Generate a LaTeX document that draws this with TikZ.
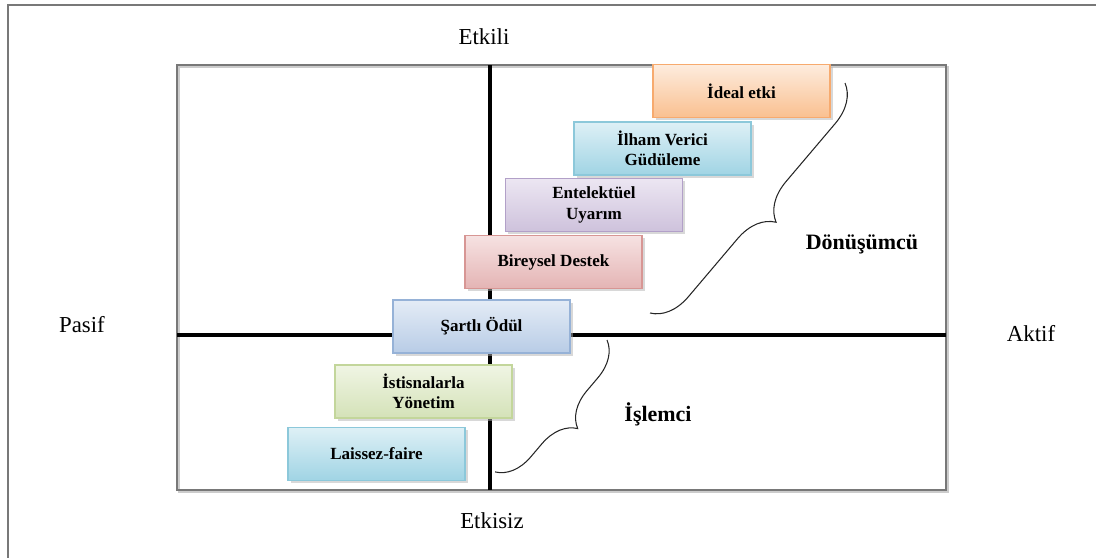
\documentclass[tikz,border=0pt]{standalone}
\usepackage{fontspec}
\setmainfont{Liberation Serif}
\usetikzlibrary{shadows,decorations.pathreplacing}

\definecolor{cerceve}{RGB}{120,120,120}
\definecolor{turuncuK}{RGB}{247,170,110}
\definecolor{turuncuA}{RGB}{253,236,222}
\definecolor{turuncuB}{RGB}{250,192,144}
\definecolor{maviK}{RGB}{140,200,218}
\definecolor{maviA}{RGB}{222,240,246}
\definecolor{maviB}{RGB}{160,212,228}
\definecolor{morK}{RGB}{178,160,200}
\definecolor{morA}{RGB}{236,230,242}
\definecolor{morB}{RGB}{206,194,220}
\definecolor{kirmiziK}{RGB}{215,150,148}
\definecolor{kirmiziA}{RGB}{246,226,226}
\definecolor{kirmiziB}{RGB}{228,180,180}
\definecolor{laciK}{RGB}{150,178,215}
\definecolor{laciA}{RGB}{228,236,246}
\definecolor{laciB}{RGB}{184,204,230}
\definecolor{yesilK}{RGB}{195,214,155}
\definecolor{yesilA}{RGB}{240,245,228}
\definecolor{yesilB}{RGB}{212,226,184}

\begin{document}
\begin{tikzpicture}[x=0.02cm,y=-0.02cm,
  kutu/.style n args={3}{draw=#1, line width=0.7pt, top color=#2, bottom color=#3,
    minimum width=3.54cm, minimum height=1.06cm, align=center, inner sep=1pt,
    font=\bfseries\fontsize{9.7}{11.5}\selectfont,
    drop shadow={shadow xshift=1.5pt, shadow yshift=-1.5pt, fill=black!30}},
  eksen/.style={line width=2.4pt, black},
  etiket/.style={font=\fontsize{13}{15}\selectfont},
  grup/.style={font=\bfseries\fontsize{12.5}{15}\selectfont},
  parantez/.style={decorate, decoration={brace, amplitude=#1}, line width=0.6pt, black!85}]

\useasboundingbox (0,0) rectangle (1096,558);

% dis cerceve
\draw [cerceve, line width=0.8pt] (8,558) -- (8,5) -- (1096,5);

% ic alan
\draw [black!20, line width=1.2pt] (179,67) rectangle (948,492);
\draw [cerceve, line width=1.1pt] (177,65) rectangle (946,490);

% eksenler
\coordinate (ust) at (490,65);
\coordinate (alt) at (490,490);
\coordinate (sol) at (177,335);
\coordinate (sag) at (946,335);
\draw [eksen] (ust) -- (alt);
\draw [eksen] (sol) -- (sag);

% eksen etiketleri
\node [etiket] (etkili) at (484,37) {Etkili};
\node [etiket] (etkisiz) at (492,521) {Etkisiz};
\node [etiket] (pasif) at (82,325) {Pasif};
\node [etiket] (aktif) at (1031,334) {Aktif};

% kutular
\node [kutu={turuncuK}{turuncuA}{turuncuB}] (ideal) at (741.5,91) {İdeal etki};
\node [kutu={maviK}{maviA}{maviB}] (ilham) at (662.5,148.5) {İlham Verici\\Güdüleme};
\node [kutu={morK}{morA}{morB}] (entelektuel) at (594,205) {Entelektüel\\Uyarım};
\node [kutu={kirmiziK}{kirmiziA}{kirmiziB}] (bireysel) at (553.5,262) {Bireysel Destek};
\node [kutu={laciK}{laciA}{laciB}] (sartli) at (481.5,326.5) {Şartlı Ödül};
\node [kutu={yesilK}{yesilA}{yesilB}] (istisna) at (423.5,391.5) {İstisnalarla\\Yönetim};
\node [kutu={maviK}{maviA}{maviB}] (laissez) at (376.5,454) {Laissez-faire};

% parantezler
\coordinate (d1) at (845,83);
\coordinate (d2) at (650,313);
\draw [parantez=0.75cm] (d1) -- (d2);
\coordinate (i1) at (607,340);
\coordinate (i2) at (495,472);
\draw [parantez=0.7cm] (i1) -- (i2);

% grup adlari
\node [grup] (donusumcu) at (862,244) {Dönüşümcü};
\node [grup] (islemci) at (658,414) {İşlemci};

\end{tikzpicture}
\end{document}
